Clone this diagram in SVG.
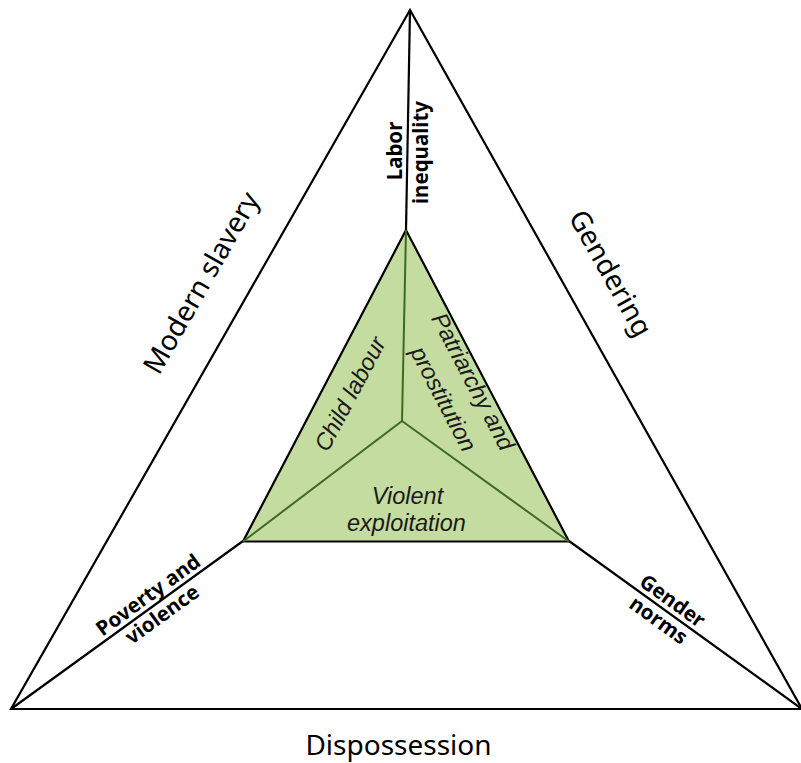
<svg xmlns="http://www.w3.org/2000/svg" width="801" height="763" viewBox="0 0 801 763">
<style>
.edge{fill:none;stroke:#000;stroke-width:2.2;stroke-linejoin:miter}
.div{fill:none;stroke:#3d6b22;stroke-width:2}
.big{font-family:"Noto Sans",sans-serif;font-size:28px;fill:#000}
.bold{font-family:"Noto Sans",sans-serif;font-size:20.5px;font-weight:bold;fill:#000}
.it{font-family:"Liberation Sans",Arial,sans-serif;font-size:23.5px;font-style:italic;fill:#1a1a1a}
</style>
<rect width="801" height="763" fill="#fff"/>
<g id="outer-triangle">
<polygon class="edge" points="410,10 11,709 802,709"/>
</g>
<g id="connectors">
<line class="edge" x1="410" y1="10" x2="406" y2="230"/>
<line class="edge" x1="11" y1="709" x2="243" y2="541"/>
<line class="edge" x1="802" y1="709" x2="569" y2="541"/>
</g>
<g id="inner-triangle">
<polygon points="406,230 243,541.5 569,541.5" fill="#c5dca0" stroke="#000" stroke-width="2.2"/>
<polyline class="div" points="406,230 402,421 243,541.5"/>
<line class="div" x1="402" y1="421" x2="569" y2="541.5"/>
</g>
<g id="label-modern-slavery">
<text class="big" text-anchor="middle" transform="translate(203.5,284) rotate(-60.3)" y="7">Modern slavery</text>
</g>
<g id="label-gendering">
<text class="big" text-anchor="middle" transform="translate(607.5,275) rotate(60.7)" y="6">Gendering</text>
</g>
<g id="label-dispossession">
<text class="big" text-anchor="middle" x="398.5" y="755">Dispossession</text>
</g>
<g id="label-labor-inequality">
<text class="bold" text-anchor="middle" transform="rotate(-90)"><tspan x="-151" y="402">Labor</tspan><tspan x="-152.5" y="428">inequality</tspan></text>
</g>
<g id="label-poverty-violence">
<text class="bold" text-anchor="middle" transform="translate(155.2,604.7) rotate(-35.9)"><tspan x="0" y="-5">Poverty and</tspan><tspan x="0" y="19">violence</tspan></text>
</g>
<g id="label-gender-norms">
<text class="bold" text-anchor="middle" transform="translate(665.5,610.6) rotate(35.8)"><tspan x="0" y="-5">Gender</tspan><tspan x="0" y="19">norms</tspan></text>
</g>
<g id="label-child-labour">
<text class="it" text-anchor="middle" transform="translate(350,394) rotate(-62)" y="8">Child labour</text>
</g>
<g id="label-patriarchy">
<text class="it" text-anchor="middle" transform="translate(473,381.5) rotate(62.3)" y="8">Patriarchy and</text>
<text class="it" text-anchor="middle" transform="translate(443.5,399) rotate(62.3)" y="8">prostitution</text>
</g>
<g id="label-violent-exploitation">
<text class="it" text-anchor="middle"><tspan x="407.5" y="504">Violent</tspan><tspan x="406.5" y="531">exploitation</tspan></text>
</g>
</svg>
